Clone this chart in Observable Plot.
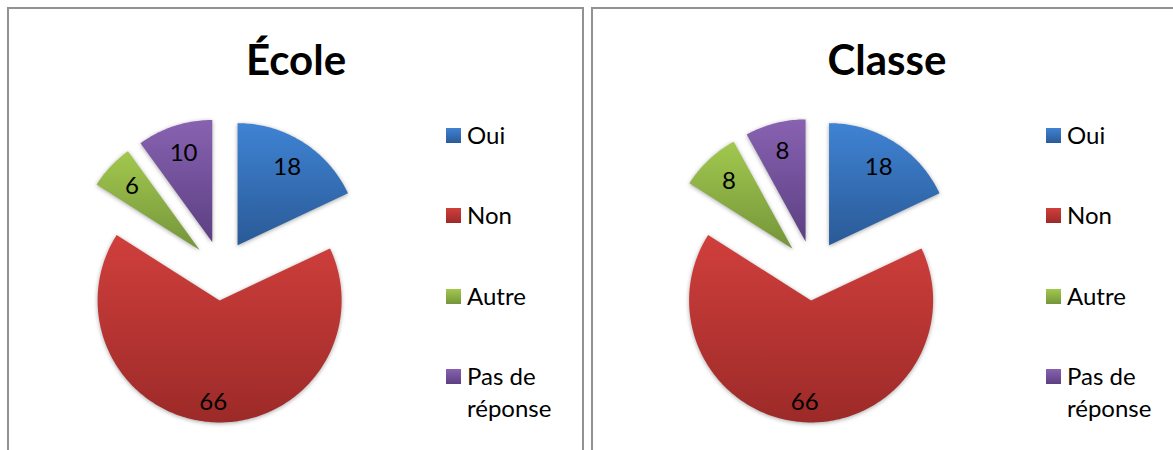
<!DOCTYPE html>
<html>
<head>
<meta charset="utf-8">
<script src="https://cdn.jsdelivr.net/npm/d3@7"></script>
<script src="https://cdn.jsdelivr.net/npm/@observablehq/plot@0.6"></script>
<style>
  body { margin: 0; background: #fff; font-family: Lato, "Open Sans", sans-serif; }
  #root { position: relative; width: 1173px; height: 450px; overflow: hidden; background: #fff; }
  .panel { position: absolute; top: 7px; height: 470px; box-sizing: border-box; border: 2px solid #929292; background: #fff; }
  .title { position: absolute; font-weight: bold; font-size: 42px; line-height: 42px; color: #000; transform: translateX(-50%); white-space: nowrap; }
  .chart { position: absolute; }
  .chart g[aria-label="line"] path { filter: drop-shadow(0px 1px 2px rgba(0,0,0,0.35)); }
  .leg-item { position: absolute; font-size: 24px; line-height: 32px; color: #000; }
  .leg-sw { position: absolute; width: 15px; height: 15px; }
  .leg-tx { position: absolute; width: 100px; }
</style>
</head>
<body>
<div id="root"></div>
<script>
// ---- data ----
const categories = ["Oui", "Non", "Autre", "Pas de réponse"];
const ecoleValues = [18, 66, 6, 10];
const classeValues = [18, 66, 8, 8];
const titles = ["École", "Classe"];
const topColors = ["#3f83d3", "#d03f3c", "#a2c84e", "#8862b1"];
const bottomColors = ["#2a5a97", "#9c2a28", "#74953a", "#5c3f82"];

// ---- layout ----
const panels = [
  {title: titles[0], values: ecoleValues, left: 7, width: 577, titleX: 296, cx: 221, legendX: 446},
  {title: titles[1], values: classeValues, left: 591, width: 600, titleX: 887, cx: 812.5, legendX: 1046}
];
const CY = 270, R = 122, EXPLODE = 30, SVG_TOP = 100, SVG_H = 350;
const LEG_Y0 = 135.5, LEG_STEP = 80.3, TITLE_TOP = 38;

const root = document.getElementById("root");

panels.forEach((p, pi) => {
  const panel = document.createElement("div");
  panel.className = "panel";
  panel.style.left = p.left + "px";
  panel.style.width = p.width + "px";
  root.appendChild(panel);

  const t = document.createElement("div");
  t.className = "title";
  t.textContent = p.title;
  t.style.left = p.titleX + "px";
  t.style.top = TITLE_TOP + "px";
  root.appendChild(t);

  // pie geometry
  const W = p.width;
  const cx = p.cx - p.left, cy = CY - SVG_TOP;
  const total = d3.sum(p.values);
  const arcs = d3.pie().sort(null).startAngle(0).endAngle(2 * Math.PI)(p.values);
  const slices = arcs.map((a, k) => {
    const m = (a.startAngle + a.endAngle) / 2;
    const ox = cx + EXPLODE * Math.sin(m), oy = cy - EXPLODE * Math.cos(m);
    const n = Math.max(2, Math.ceil((a.endAngle - a.startAngle) / (Math.PI / 180)));
    const pts = [{x: ox, y: oy}];
    for (let i = 0; i <= n; i++) {
      const ang = a.startAngle + (a.endAngle - a.startAngle) * i / n;
      pts.push({x: ox + R * Math.sin(ang), y: oy - R * Math.cos(ang)});
    }
    pts.push({x: ox, y: oy});
    const lr = (a.value / total > 0.5 ? 0.84 : 0.76) * R;
    return {k, pts, label: {x: ox + lr * Math.sin(m), y: oy - lr * Math.cos(m), text: String(a.value)}};
  });

  const defsMark = () => {
    const g = d3.create("svg:g");
    const defs = g.append("defs");
    categories.forEach((c, k) => {
      const lg = defs.append("linearGradient")
        .attr("id", `g${pi}_${k}`)
        .attr("x1", 0).attr("y1", 0).attr("x2", 0).attr("y2", 1);
      lg.append("stop").attr("offset", "0%").attr("stop-color", topColors[k]);
      lg.append("stop").attr("offset", "100%").attr("stop-color", bottomColors[k]);
    });
    return g.node();
  };

  const chart = Plot.plot({
    width: W,
    height: SVG_H,
    margin: 0,
    className: "pie",
    x: {domain: [0, W], range: [0, W], axis: null},
    y: {domain: [0, SVG_H], range: [0, SVG_H], axis: null},
    marks: [
      defsMark,
      ...slices.map(s => Plot.line(s.pts, {x: "x", y: "y", fill: `url(#g${pi}_${s.k})`, stroke: "none", curve: "linear"})),
      Plot.text(slices.map(s => s.label), {x: "x", y: "y", text: "text", fontSize: 24, fill: "#000", fontFamily: "Lato, 'Open Sans', sans-serif"})
    ]
  });
  chart.classList.add("chart");
  chart.style.left = p.left + "px";
  chart.style.top = SVG_TOP + "px";
  chart.style.background = "transparent";
  root.appendChild(chart);

  // legend
  categories.forEach((c, k) => {
    const yc = LEG_Y0 + k * LEG_STEP;
    const sw = document.createElement("div");
    sw.className = "leg-sw";
    sw.style.left = p.legendX + "px";
    sw.style.top = (yc - 7.5) + "px";
    sw.style.background = `linear-gradient(${topColors[k]}, ${bottomColors[k]})`;
    root.appendChild(sw);
    const tx = document.createElement("div");
    tx.className = "leg-item leg-tx";
    tx.style.left = (p.legendX + 21) + "px";
    tx.style.top = (yc - 16.5) + "px";
    tx.textContent = c;
    root.appendChild(tx);
  });
});
</script>
</body>
</html>
